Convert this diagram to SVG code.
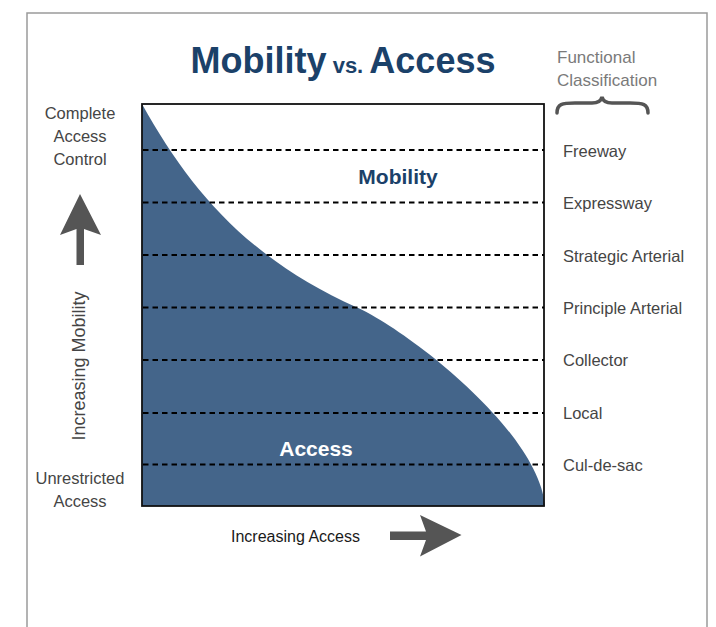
<svg xmlns="http://www.w3.org/2000/svg" width="716" height="627" viewBox="0 0 716 627">
<style>
  .lbl { font-family: "Liberation Sans", Arial, sans-serif; font-size: 16.5px; fill: #454545; }
  .side { font-family: "Liberation Sans", Arial, sans-serif; font-size: 16.5px; fill: #454545; text-anchor: middle; }
  .title { font-family: "Liberation Sans", Arial, sans-serif; font-weight: bold; fill: #1b4169; }
  .dash { stroke: #000; stroke-width: 2; stroke-dasharray: 5.5 4; fill: none; }
  .garrow { fill: #555555; }
</style>
<rect x="0" y="0" width="716" height="627" fill="#ffffff"/>
<rect x="27" y="13" width="680" height="700" fill="none" stroke="#9a9a9a" stroke-width="1.5"/>

<g id="title">
  <text x="343" y="73" class="title" text-anchor="middle"><tspan font-size="36">Mobility</tspan><tspan font-size="22"> vs. </tspan><tspan font-size="36">Access</tspan></text>
</g>

<g id="functional-classification">
  <text x="557" y="63" font-family="Liberation Sans, Arial, sans-serif" font-size="17" fill="#7a7a7a">Functional</text>
  <text x="557" y="86" font-family="Liberation Sans, Arial, sans-serif" font-size="17" fill="#7a7a7a">Classification</text>
  <path d="M557,113 C557,104 562,103 575,103 L592,103 C598,103 601,101 602,97 C603,101 606,103 612,103 L630,103 C643,103 648,104 648,113" fill="none" stroke="#555" stroke-width="3.5" stroke-linecap="round"/>
</g>

<g id="chart">
  <path id="access-area" d="M142,104 C190,190 247,258 357,307.5 C407,330 538,430 545,506 L142,506 Z" fill="#44658a"/>
  <rect x="142" y="104" width="402" height="402" fill="none" stroke="#111" stroke-width="1.8"/>
  <text x="398" y="184" class="title" font-size="21" text-anchor="middle">Mobility</text>
  <text x="316" y="456" class="title" font-size="21" text-anchor="middle" style="fill:#ffffff">Access</text>
</g>

<g id="connectors">
  <line x1="143" y1="150" x2="544" y2="150" class="dash"/>
  <line x1="143" y1="202.5" x2="544" y2="202.5" class="dash"/>
  <line x1="143" y1="255" x2="544" y2="255" class="dash"/>
  <line x1="143" y1="307.5" x2="544" y2="307.5" class="dash"/>
  <line x1="143" y1="360" x2="544" y2="360" class="dash"/>
  <line x1="143" y1="413" x2="544" y2="413" class="dash"/>
  <line x1="143" y1="464.5" x2="544" y2="464.5" class="dash"/>
</g>

<g id="classes">
  <text x="563" y="157" class="lbl">Freeway</text>
  <text x="563" y="209" class="lbl">Expressway</text>
  <text x="563" y="261.5" class="lbl">Strategic Arterial</text>
  <text x="563" y="313.5" class="lbl">Principle Arterial</text>
  <text x="563" y="366" class="lbl">Collector</text>
  <text x="563" y="418.5" class="lbl">Local</text>
  <text x="563" y="470.5" class="lbl">Cul-de-sac</text>
</g>

<g id="mobility-axis">
  <text x="80" y="119" class="side">Complete</text>
  <text x="80" y="142" class="side">Access</text>
  <text x="80" y="165" class="side">Control</text>
  <polygon class="garrow" points="80,194 101,235 84,229 84,265 76.5,265 76.5,229 60,235"/>
  <text x="85" y="366" class="side" style="font-size:18px" transform="rotate(-90 85 366)">Increasing Mobility</text>
  <text x="80" y="484" class="side">Unrestricted</text>
  <text x="80" y="507" class="side">Access</text>
</g>

<g id="access-axis">
  <text x="295.5" y="541.5" font-family="Liberation Sans, Arial, sans-serif" font-size="16" fill="#1a1a1a" text-anchor="middle">Increasing Access</text>
  <polygon class="garrow" points="461.5,535 420,556.5 426,540 390,540 390,531.5 426,531.5 420,515"/>
</g>
</svg>
